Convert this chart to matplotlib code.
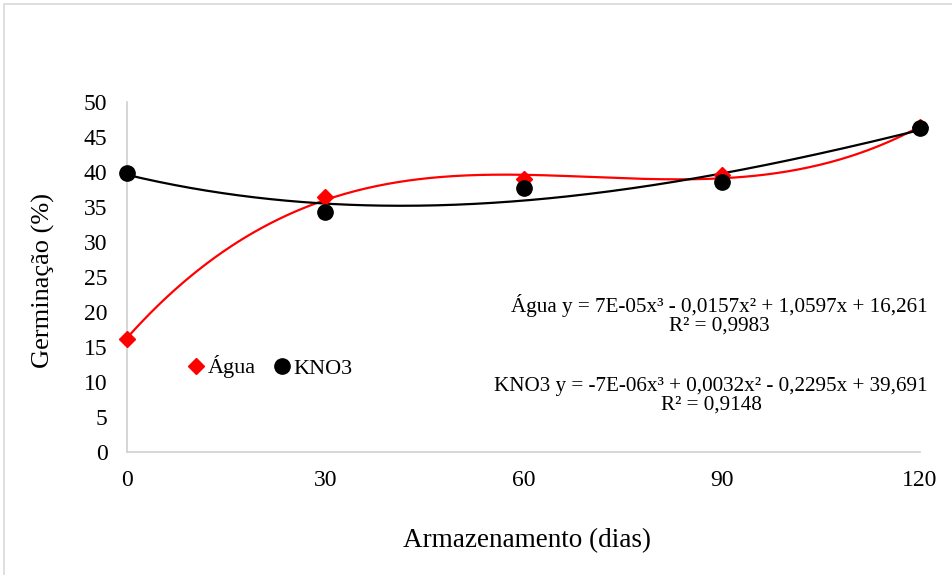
import numpy as np
import matplotlib.pyplot as plt
from matplotlib.patches import Rectangle

plt.rcParams['font.family'] = ['Liberation Serif', 'DejaVu Serif']

dias = [0, 30, 60, 90, 120]
agua = [16.2, 36.4, 39.0, 39.5, 46.4]
kno3 = [39.9, 34.3, 37.7, 38.6, 46.3]

eq_agua = 'Água y = 7E-05x³ - 0,0157x² + 1,0597x + 16,261\nR² = 0,9983'
eq_kno3 = 'KNO3 y = -7E-06x³ + 0,0032x² - 0,2295x + 39,691\nR² = 0,9148'

fig = plt.figure(figsize=(9.52, 5.75), dpi=100)
ax = fig.add_axes([127/952, 1 - 452/575, (920 - 127)/952, 350/575])

# light frame round the whole chart
fig.patches.append(Rectangle((4/952, -0.1), 1.2, 1 - 3.5/575 + 0.1, transform=fig.transFigure,
                             fill=False, edgecolor='#d9d9d9', linewidth=1.2))

xs = np.linspace(0, 120, 300)
for vals, col in [(agua, 'red'), (kno3, 'black')]:
    coef = np.polyfit(dias, vals, 3)
    ax.plot(xs, np.polyval(coef, xs), color=col, lw=1.6, zorder=2)

ax.plot(dias, agua, 'D', color='red', ms=8.5, label='Água', zorder=3, clip_on=False)
ax.plot(dias, kno3, 'o', color='black', ms=11, label='KNO3', zorder=3, clip_on=False)

ax.set_xlim(0, 120)
ax.set_ylim(0, 50)
ax.set_xticks(dias)
ax.set_yticks(range(0, 51, 5))
ax.tick_params(length=0, labelsize=17)
ax.tick_params(axis='y', pad=14)
ax.tick_params(axis='x', pad=13)
for s in ['top', 'right']:
    ax.spines[s].set_visible(False)
for s in ['left', 'bottom']:
    ax.spines[s].set_color('#d0d0d0')
    ax.spines[s].set_linewidth(1.2)

fig.text(43/952, 1 - 280/575, 'Germinação (%)', rotation=90, ha='center', va='center', fontsize=19)
fig.text(527/952, 1 - 541/575, 'Armazenamento (dias)', ha='center', va='center', fontsize=19.5)

fig.text(719/952, 1 - 315/575, eq_agua, ha='center', va='center', fontsize=15.2, linespacing=1.0)
fig.text(711/952, 1 - 396/575, eq_kno3, ha='center', va='center', fontsize=15.2, linespacing=1.0)

ax.legend(loc='center left', bbox_to_anchor=(47/793, 85/350), frameon=False, fontsize=16,
          ncol=2, handletextpad=-0.1, columnspacing=0.6, handlelength=1.2, borderaxespad=0)

fig.savefig('out.png', dpi=100)
